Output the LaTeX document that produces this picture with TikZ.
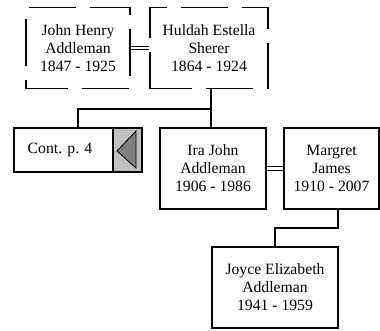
\documentclass[tikz,border=0pt]{standalone}
\usepackage{fontspec}
\setmainfont{Liberation Serif}
\usetikzlibrary{arrows.meta,positioning,calc}

\definecolor{btngray}{HTML}{C0C0C0}
\definecolor{trigray}{HTML}{808080}

\begin{document}
\begin{tikzpicture}[x=1pt,y=-1pt,
    person/.style={draw,line width=1.2pt,align=center,inner sep=0pt,
        minimum height=81pt,font=\fontsize{15.7}{18}\selectfont},
    ghost/.style={person,dash pattern=on 47pt off 14pt,dash phase=5pt},
    link/.style={line width=1.4pt},
    wed/.style={draw,double=white,double distance=2.6pt,line width=1pt}]
            \useasboundingbox (0,0) rectangle (380,330);

            \begin{scope}
                \node[ghost,minimum width=104pt] (john) at (78,48) {John Henry\\Addleman\\1847 - 1925};
                \node[ghost,minimum width=118pt] (huldah) at (209,48) {Huldah Estella\\Sherer\\1864 - 1924};
                \node[person,minimum width=106pt] (ira) at (213,168.5) {Ira John\\Addleman\\1906 - 1986};
                \node[person,minimum width=95pt] (margret) at (331.5,168.5) {Margret\\James\\1910 - 2007};
                \node[person,minimum width=126pt] (joyce) at (275,287.5) {Joyce Elizabeth\\Addleman\\1941 - 1959};
                \node[person,line width=1.5pt,minimum width=128pt,minimum height=44pt] (cont) at (78,150) {};
                \node[draw,line width=1.5pt,fill=btngray,minimum width=29pt,minimum height=44pt,anchor=east] (btn) at (cont.east) {};
                \node[font=\fontsize{15.7}{18}\selectfont] (conttext) at (60,150) {Cont. p. 4};
            \end{scope}

            \draw[fill=trigray,line width=0.8pt] ($(btn.center)+(-10.5,1)$) -- ($(btn.center)+(8.5,-19)$) -- ($(btn.center)+(8.5,18)$) -- cycle;

            \coordinate (kids) at (211,109);
            \coordinate (kid) at (338,228);

            \begin{scope}
                \draw [wed] (john.east) -- (huldah.west);
                \draw [wed] (ira.east) -- (margret.west);
                \draw [link] (kids |- huldah.south) -- (kids);
                \draw [link] (cont.north) |- (kids) -- (kids |- ira.north);
                \draw [link] (kid |- margret.south) -- (kid) -| (joyce.north);
            \end{scope}
\end{tikzpicture}
\end{document}
